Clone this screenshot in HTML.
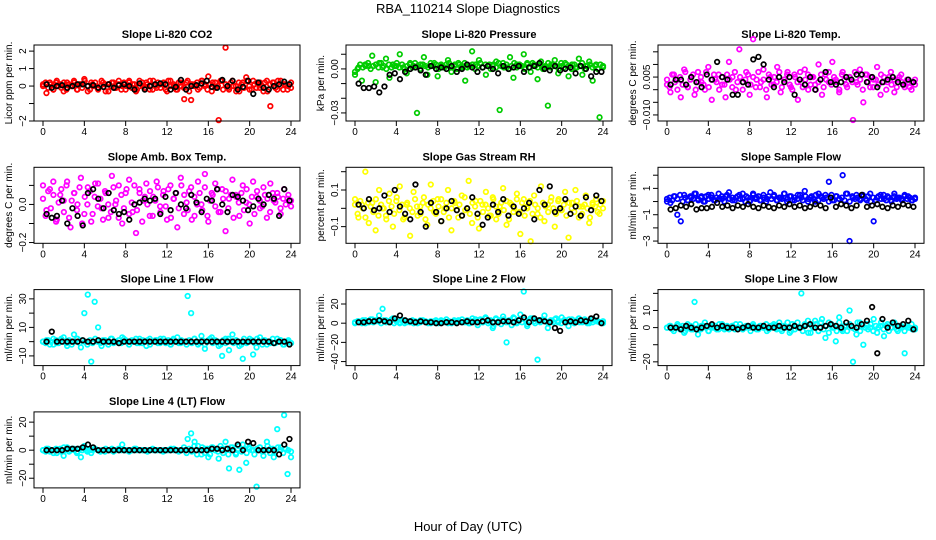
<!DOCTYPE html>
<html><head><meta charset="utf-8"><style>
html,body{margin:0;padding:0;background:#fff;}
svg{display:block;font-family:"Liberation Sans",Arial,sans-serif;}
</style></head><body>
<svg id="chart" width="936" height="540" viewBox="0 0 936 540" xmlns="http://www.w3.org/2000/svg">
<rect width="936" height="540" fill="#fff"/>
<text x="468" y="13" font-size="13" text-anchor="middle">RBA_110214  Slope Diagnostics</text>
<text x="468" y="531" font-size="13" text-anchor="middle">Hour of Day (UTC)</text>
</svg>
<script>
const co2C=[0.1,-0.4,0.2,-0.2,0.3,0.1,-0.3,0.2,0,0.3,-0.2,0.1,0.4,-0.3,0.2,0,-0.2,0.3,0.1,-0.3,0.2,-0.1,0.3,0,-0.2,0.2,0.1,-0.3,0.3,0,0.2,-0.2,0.3,-0.1,0.1,0.2,-0.3,0.3,0,-0.2,0.2,-0.75,0.3,-0.8,0.1,-0.2,0.3,0.1,0.55,-0.3,0.2,-1.95,0.3,2.2,-0.2,0.3,0,-0.3,0.2,0.5,-0.2,0.3,-0.1,0.2,-0.3,0.3,-1.15,0.2,-0.2,0.3,0.1,-0.2,0.2];
const co2B=[0,0.2,-0.1,0.1,-0.2,0.2,0,-0.1,0.2,-0.2,0.1,0,0.2,-0.2,0.1,-0.1,0.3,0,-0.2,0.1,0.2,-0.1,0,0.2,-0.3,0.1,0,0.2,-0.1,0.1,-0.2,0.2,0,0.3,-0.1,0.1,-0.2,0,0.2,-0.1,0.1,0.3,-0.2,0,0.2,-0.1,0.1,-0.2,0.3,0,0.1,-0.2,0.2,0,-0.1,0.2,-0.3,0.1,0,0.2,-0.1,0.3,0,-0.2,0.1,0.2,-0.1,0,0.3,-0.2,0.1,-0.1,0.2,0,-0.3,0.2,0.1,-0.1,0.3,0,-0.2,0.1,0.2,-0.1,0,0.2,-0.3,0.1,0.2,-0.1,0.3,0,-0.2,0.1,0,-0.1];
const co2K=[0.1,-0.1,0,0.05,-0.1,0,0.1,0.1,0,0.05,-0.1,-0.05,0.1,-0.1,0.05,0.1,0,-0.2,0.15,-0.2,0,0.1,0.15,0.1,-0.2,-0.05,0.35,-0.2,0,0.05,0.15,0.3,-0.05,-0.1,0.35,0,0.3,-0.2,-0.05,0.3,-0.45,0.2,-0.1,-0.2,0,0.1,0.25,0.1];
const presC=[-.004,.001,-.008,.003,.002,.009,-.009,.004,.001,.007,-.006,.003,.002,.010,.001,-.003,.004,.002,-.030,.003,.008,-.004,.002,.004,-.005,.003,.001,.006,-.002,.003,.004,.001,-.008,.002,.012,.003,.006,.001,-.004,.003,.002,.005,-.028,.004,.001,.008,-.006,.003,.002,.010,.004,-.002,.003,-.007,.005,.001,-.025,.003,.006,-.003,.002,.004,-.005,.003,.001,.007,-.004,.002,.005,-.008,.003,-.033,.002];
const presB=[-.002,.000,.003,.001,.002,.004,.000,.002,.003,.001,.004,.002,.000,.003,.001,.002,.004,.001,.003,.000,.002,.003,.001,.004,.002,.000,.003,.002,.001,.004,.002,.003,.000,.002,.001,.003,.004,.001,.002,.000,.003,.002,.004,.001,.002,.003,.000,.002,.004,.001,.003,.002,.000,.003,.001,.004,.002,.001,.003,.000,.002,.004,.001,.003,.002,.000,.003,.001,.004,.002,.001,.003,.000,.002,.004,.001,.003,.002,.000,.004,.001,.003,.002,.000,.003,.001,.002,.004,.000,.002,.003,.001,.002,.000,.003,.001];
const presK=[-.010,-.013,-.013,-.012,-.016,-.012,-.004,-.003,-.007,-.002,0,.001,-.001,-.004,.002,0,.001,0,.002,-.002,0,.003,.001,-.002,.001,.002,0,-.003,.002,0,.001,.002,-.002,.001,.002,.004,0,-.001,.002,-.001,0,.001,-.003,.002,0,-.005,-.002,-.002];
const tempC=[.002,-.001,.006,.004,-.003,.008,.001,.005,-.002,.007,.003,.000,.009,-.004,.004,.006,.002,-.003,.011,.005,.000,.016,.003,.007,-.002,.020,.004,.001,.008,-.003,.005,.002,.009,-.001,.004,.007,.001,.006,-.004,.003,.008,.000,.005,.002,.010,-.002,.006,.003,.011,.004,-.001,.007,.002,.005,-.012,.003,.008,-.005,.006,.001,.004,.009,-.002,.005,.003,.007,-.001,.004,.006,.001,.003,.000,.004];
const tempB=[.004,.001,.006,.003,.000,.005,.002,.007,.001,.004,.006,.000,.003,.005,.002,.007,.001,.004,.006,.003,.000,.005,.002,.006,.004,.001,.007,.003,.005,.000,.004,.006,.002,.005,.001,.007,.003,.004,.000,.006,.002,.005,.003,.007,.001,.004,.006,.002,.000,.005,.003,.007,.001,.004,.006,.002,.005,.000,.003,.006,.001,.004,.007,.002,.005,.003,.000,.006,.004,.001,.005,.003,.007,.002,.004,.000,.006,.003,.005,.001,.004,.002,.006,.003,.000,.005,.002,.004,.001,.005,.003,.002,.004,.001,.003,.002];
const tempK=[.002,.004,.004,.002,.005,.003,.001,.006,.004,.011,.005,.004,-.002,-.002,.003,.002,.012,.013,.010,.004,.001,.005,.003,.005,-.002,.004,.002,.005,.000,.004,.007,.003,.002,.003,.005,.004,.006,.006,.003,.005,.001,.003,.004,.005,.003,.002,.004,.003];
const ambC=[.10,-.03,.08,.12,-.08,.05,.02,.12,-.12,.06,.00,.14,-.05,.09,-.09,.04,.11,-.02,.07,-.07,.15,.00,.10,-.10,.06,.13,-.04,-.15,.08,.02,.11,-.06,.04,.12,-.01,.07,-.08,.10,.03,-.12,.14,.05,-.03,.09,-.06,.12,.00,.16,-.09,.06,.11,-.04,.08,-.14,.03,.13,.05,-.06,.10,.01,-.10,.12,.04,-.02,.09,-.07,.11,.02,.06,-.05,.08,.03,-.01];
const ambB=[.03,-.06,.07,-.02,.05,-.09,.01,.08,-.04,.10,-.07,.02,.06,-.03,.09,-.10,.04,.00,.07,-.05,.11,-.01,.03,-.08,.06,.00,-.04,.09,.02,-.07,.05,-.02,.08,-.05,.01,.10,-.03,.06,-.09,.04,.00,.07,-.06,.02,.09,-.04,.05,-.01,.08,-.07,.03,.06,-.02,.10,-.05,.01,.07,-.08,.04,.00,.06,-.03,.09,-.06,.02,.05,-.01,.08,-.04,.03,.07,-.02,.05,-.07,.04,.01,.06,-.03,.08,.00,.04,-.05,.07,.02,-.01,.05,.03,-.04,.06,.01,.04,-.02,.03,.00,.05,.02];
const ambK=[-.05,-.07,-.06,.02,-.10,-.02,-.06,-.11,.06,.08,.03,-.02,.06,-.03,-.05,-.04,-.08,.00,.01,.03,.02,.03,-.05,.04,-.03,.06,.00,-.02,.05,.01,-.04,.03,.02,.08,.00,-.04,.05,.04,.02,-.03,-.01,.03,.00,.05,.03,-.06,.08,.02];
const rhC=[.05,-.05,.02,.20,-.08,.03,-.12,.10,.00,-.04,.08,-.10,.04,.12,-.06,.02,-.15,.09,.01,-.03,.06,-.09,.13,-.02,.05,-.07,.00,.10,-.12,.03,-.05,.07,-.01,.15,-.08,.04,-.11,.02,.09,-.04,.06,-.06,.01,.11,-.09,.03,-.02,.08,-.14,.05,.00,-.18,.07,-.03,.12,-.07,.02,.06,-.10,.04,-.01,.09,-.16,.03,.10,-.05,.01,.07,-.08,.02,.05,-.03,.04];
const rhB=[.02,-.03,.04,.00,-.05,.03,.01,-.02,.05,-.04,.02,.00,-.06,.04,.01,-.03,.06,-.01,.02,-.05,.03,.00,-.02,.05,-.04,.01,.03,-.06,.02,.00,.04,-.03,.01,.05,-.02,.03,-.05,.00,.04,-.01,.02,-.04,.06,.00,-.03,.03,.01,-.05,.04,-.02,.02,.00,-.04,.05,.01,-.03,.03,-.01,.04,-.06,.02,.00,.05,-.02,.03,-.04,.01,.04,-.03,.02,.00,-.05,.03,.01,-.02,.04,.00,-.03,.05,-.01,.02,-.04,.03,.00,-.02,.04,.01,-.03,.02,.00,-.05,.03,.01,-.02,.02,.00];
const rhK=[.02,.00,.05,-.01,.00,.07,-.02,.10,.01,-.03,-.06,.13,-.02,-.10,.03,-.02,-.07,.00,.04,-.01,-.04,.00,.06,-.03,-.09,-.05,.02,-.02,.05,-.04,.01,-.03,.00,.03,-.06,.10,.02,.12,-.02,.00,.05,-.03,.01,-.04,.06,-.01,.07,.04];
const flowC=[.2,-.1,.4,-1.0,-1.5,.5,.1,.3,.6,.2,.4,.0,.5,.3,.1,.6,.2,.4,.7,.1,.3,.5,.2,.4,.0,.6,.3,.1,.5,.2,.7,.4,.1,.3,.6,.2,.4,.1,.5,.3,.8,.2,.4,.0,.6,.3,.5,1.5,.1,.4,.2,2.0,.6,-3.0,.3,.5,.2,.4,.1,.6,-1.5,.3,.5,.2,.4,.1,.6,.3,.2,.5,.4,.1,.3];
const flowB=[.0,.3,.1,.4,.2,.5,.0,.3,.1,.4,.2,.6,.1,.3,.0,.4,.2,.5,.1,.3,.2,.4,.0,.5,.2,.3,.1,.4,.2,.6,.0,.3,.1,.5,.2,.4,.1,.3,.0,.4,.2,.5,.1,.3,.2,.6,.0,.4,.1,.3,.2,.5,.1,.4,.0,.3,.2,.5,.1,.4,.2,.3,.0,.5,.1,.4,.2,.3,.1,.6,.0,.4,.2,.3,.1,.5,.2,.4,.0,.3,.1,.4,.2,.5,.1,.3,.0,.4,.2,.3,.1,.4,.2,.3,.1,.2];
const flowK=[-.6,-.5,-.3,-.4,-.2,-.6,-.5,-.5,-.4,-.1,-.4,-.3,-.5,-.3,-.4,-.2,-.4,-.5,-.3,-.4,-.5,-.3,-.4,-.2,-.4,-.3,-.5,-.4,-.2,-.3,-.5,.3,-.4,-.2,-.3,-.5,-.3,.5,-.4,-.3,-.2,-.4,-.5,-.3,-.4,-.2,-.3,-.4];
const line1C=[0,1,-2,2,-1,1,3,-3,0,5,2,-4,20,33,-14,28,10,-3,1,-2,2,0,-1,3,1,-2,0,2,-1,1,-3,2,0,1,-1,2,0,-2,1,3,-1,0,32,20,2,-2,4,-5,1,3,0,-3,-10,2,-6,5,1,-3,-12,0,2,-9,-4,3,1,-2,0,-1,2,1,-2,0,-1];
const line1B=[0,-1,1,0,-2,1,-1,2,0,-1,1,-2,0,2,-1,1,0,-2,1,-1,2,0,-1,1,0,-2,2,-1,0,1,-1,2,0,-2,1,0,-1,2,-1,0,1,-2,0,1,-1,2,0,-1,1,-2,2,0,-1,1,0,-2,1,-1,2,0,-1,1,-2,0,2,-1,1,0,-2,1,-1,2,0,-1,1,0,-2,2,-1,0,1,-1,2,0,-2,1,0,-1,2,-1,0,1,-2,0,1,-1];
const line1K=[0,7,0,0,0,0,0,1,0,0,1,0,0,0,-1,0,0,0,0,0,0,0,0,0,0,0,0,0,0,0,0,0,0,0,0,0,0,0,0,0,0,0,0,0,-1,0,0,-2];
const line2C=[1,2,0,3,1,4,2,8,15,3,1,5,2,0,3,1,2,0,1,3,2,1,0,2,1,3,2,0,1,2,3,1,2,0,2,4,3,1,5,2,-5,4,3,7,-20,2,6,1,9,33,-3,5,2,-38,3,8,-5,2,4,1,6,3,-3,4,2,5,1,3,0,4,2,1,0];
const line2B=[0,2,1,3,0,2,4,1,3,2,0,3,1,2,4,0,2,1,3,0,2,1,3,2,0,1,3,2,0,2,1,3,0,2,1,4,2,0,3,1,2,4,1,3,0,5,2,-2,4,1,6,0,3,-3,5,2,-1,4,1,3,-2,5,0,3,1,4,-1,2,5,0,3,1,4,2,0,3,1,5,2,0,3,1,4,2,0,3,1,2,4,0,2,1,3,2,1,2];
const line2K=[1,1,2,2,3,2,1,5,8,3,2,1,2,1,1,0,0,1,1,0,1,2,1,1,2,3,1,1,2,2,1,3,6,1,5,3,2,1,-5,-8,1,2,1,3,2,5,7,0];
const line3C=[0,1,-2,1,0,-3,2,-1,15,-4,1,3,-2,0,1,-1,2,0,-1,1,2,0,-1,1,0,2,-1,1,0,-2,1,2,0,-1,1,3,-2,1,0,20,2,-3,1,4,-2,5,-6,3,0,-8,6,-2,1,10,-20,-4,3,-10,2,0,5,-3,1,-5,2,0,3,-2,1,-15,0,2,-1];
const line3B=[0,1,-1,0,2,-1,1,-2,0,1,-1,2,0,-1,1,0,-2,1,0,-1,2,0,-1,1,0,1,-1,0,2,-1,0,1,-2,1,0,-1,1,0,2,-1,0,1,-1,3,-2,1,0,-3,2,-1,3,0,-2,1,4,-3,0,2,-2,3,-1,1,-3,2,0,-2,3,-1,1,-2,2,0,-1,3,-2,1,0,-1,2,-2,1,0,3,-1,1,-2,0,2,-1,1,0,-2,1,0,-1,0];
const line3K=[0,0,-1,1,0,-1,0,1,2,0,1,0,0,-1,0,1,0,0,1,0,0,1,0,0,1,0,1,2,0,0,1,2,1,0,3,1,0,2,4,12,-15,5,0,3,1,2,4,-1];
const line4C=[0,1,-1,0,-2,1,-4,2,0,1,-1,-5,3,0,-2,1,0,0,-1,0,1,0,0,4,0,0,0,1,0,0,0,0,0,0,0,0,0,0,1,0,0,0,8,12,6,3,-3,1,-5,2,0,-6,1,6,-13,2,-3,-14,4,-9,1,0,-26,2,-4,6,1,-5,15,2,25,-17,-5];
const line4B=[0,-1,1,0,-2,1,0,-1,2,0,-1,1,0,-2,1,0,1,-1,0,0,1,0,-1,0,1,0,0,-1,0,1,0,0,0,-1,0,1,0,0,0,0,-1,0,1,0,0,0,-1,0,0,1,0,0,-1,0,2,-2,1,-1,3,-3,0,2,-2,1,-3,2,0,-1,3,-2,1,-3,2,0,-2,3,-1,1,-2,2,0,-3,1,2,-1,0,3,-2,1,-1,2,0,-2,1,0,-1];
const line4K=[0,0,0,0,1,1,1,2,4,2,0,0,0,0,0,0,0,0,0,0,0,0,0,0,0,0,0,0,0,0,0,0,1,1,0,1,0,4,0,6,5,0,0,0,0,-3,4,8];
const hourTicks=[0,4,8,12,16,20,24];

const panels=[
 {n:'co2',title:'Slope Li-820 CO2',ylab:'Licor ppm per min.',col:'#ff0000',c:co2C,b:co2B,k:co2K,lo:-2.0,hi:2.35,ticks:[-2,-1,0,1,2],labs:[-2,0,1,2],dec:0},
 {n:'pressure',title:'Slope Li-820 Pressure',ylab:'kPa per min.',col:'#00cc00',c:presC,b:presB,k:presK,lo:-0.0355,hi:0.0163,ticks:[-0.03,-0.02,-0.01,0,0.01],labs:[-0.03,0],dec:2},
 {n:'temp',title:'Slope Li-820 Temp.',ylab:'degrees C per min.',col:'#ff00ff',c:tempC,b:tempB,k:tempK,lo:-0.0124,hi:0.0177,ticks:[-0.01,-0.005,0,0.005,0.01,0.015],labs:[-0.01,0.005],dec:3},
 {n:'amb-box-temp',title:'Slope Amb. Box Temp.',ylab:'degrees C per min.',col:'#ff00ff',c:ambC,b:ambB,k:ambK,lo:-0.204,hi:0.195,ticks:[-0.2,-0.1,0,0.1],labs:[-0.2,0],dec:1},
 {n:'gas-stream-rh',title:'Slope Gas Stream RH',ylab:'percent per min.',col:'#ffff00',c:rhC,b:rhB,k:rhK,lo:-0.191,hi:0.224,ticks:[-0.1,0,0.1,0.2],labs:[-0.1,0.1],dec:1},
 {n:'sample-flow',title:'Slope Sample Flow',ylab:'ml/min per min.',col:'#0000ff',c:flowC,b:flowB,k:flowK,lo:-3.17,hi:2.6,ticks:[-3,-2,-1,0,1,2],labs:[-3,-1,1],dec:0},
 {n:'line1-flow',title:'Slope Line 1 Flow',ylab:'ml/min per min.',col:'#00ffff',c:line1C,b:line1B,k:line1K,lo:-16.8,hi:36.5,ticks:[-10,0,10,20,30],labs:[-10,10,30],dec:0},
 {n:'line2-flow',title:'Slope Line 2 Flow',ylab:'ml/min per min.',col:'#00ffff',c:line2C,b:line2B,k:line2K,lo:-44.2,hi:35,ticks:[-40,-20,0,20],labs:[-40,-20,0,20],dec:0},
 {n:'line3-flow',title:'Slope Line 3 Flow',ylab:'ml/min per min.',col:'#00ffff',c:line3C,b:line3B,k:line3K,lo:-22.2,hi:22.2,ticks:[-20,-10,0,10,20],labs:[-20,0,10],dec:0},
 {n:'line4-flow',title:'Slope Line 4 (LT) Flow',ylab:'ml/min per min.',col:'#00ffff',c:line4C,b:line4B,k:line4K,lo:-26.9,hi:27.3,ticks:[-20,-10,0,10,20],labs:[-20,0,20],dec:0}
];
const NS='http://www.w3.org/2000/svg';
const svg=document.getElementById('chart');
function mk(tag,attrs,parent,txt){const e=document.createElementNS(NS,tag);for(const k in attrs)e.setAttribute(k,attrs[k]);if(txt!==undefined)e.textContent=txt;parent.appendChild(e);return e;}
function fmt(v,d){let s=v.toFixed(d);if(v<0)s='\u2212'+s.slice(1);return s;}
panels.forEach((p,idx)=>{
  const col=idx%3,row=Math.floor(idx/3);
  const L=34+312*col,R=300+312*col,T=45+122.3*row,B=T+76;
  const xs=h=>L+9+h*(R-L-18)/24;
  const ys=v=>B-(v-p.lo)/(p.hi-p.lo)*(B-T);
  const g=mk('g',{},svg);
  
  
  const t=mk('text',{x:(L+R)/2,y:T-7,'font-size':11,'font-weight':'bold','text-anchor':'middle'},g,p.title);
  
  
  const yl=mk('text',{x:0,y:0,'font-size':10,'text-anchor':'middle',transform:`translate(${L-22},${(T+B)/2}) rotate(-90)`},g,p.ylab);
  
  
  const pts=mk('g',{fill:'none','stroke-width':1.7},g);
  
  
  p.b.forEach((v,i)=>{
    const h=i*24/(p.b.length-1);
    const c=mk('circle',{cx:xs(h),cy:ys(v),r:2.3,stroke:p.col},pts);
    
    
  });
  p.c.forEach((v,i)=>{
    const h=i*24/(p.c.length-1);
    const c=mk('circle',{cx:xs(h),cy:ys(v),r:2.3,stroke:p.col},pts);
    
    
  });
  const kp=mk('g',{fill:'none','stroke-width':1.7},g);
  
  
  p.k.forEach((v,i)=>{
    const h=(i+1)*0.5-0.15;
    const c=mk('circle',{cx:xs(h),cy:ys(v),r:2.3,stroke:'#000'},kp);
    
    
  });
  const box=mk('rect',{x:L,y:T,width:R-L,height:B-T,fill:'none',stroke:'#000','stroke-width':1},g);
  
  
  hourTicks.forEach(h=>{
    const tk=mk('line',{x1:xs(h),x2:xs(h),y1:B,y2:B+5,stroke:'#000'},g);
    
    
    const tl=mk('text',{x:xs(h),y:B+14,'font-size':10,'text-anchor':'middle'},g,String(h));
    
    
  });
  p.ticks.forEach(v=>{
    const tk=mk('line',{x1:L-5,x2:L,y1:ys(v),y2:ys(v),stroke:'#000'},g);
    
    
  });
  p.labs.forEach(v=>{
    const tl=mk('text',{x:0,y:0,'font-size':10,'text-anchor':'middle',transform:`translate(${L-8},${ys(v)}) rotate(-90)`},g,fmt(v,p.dec));
    
    
  });
});
</script>
</body></html>
